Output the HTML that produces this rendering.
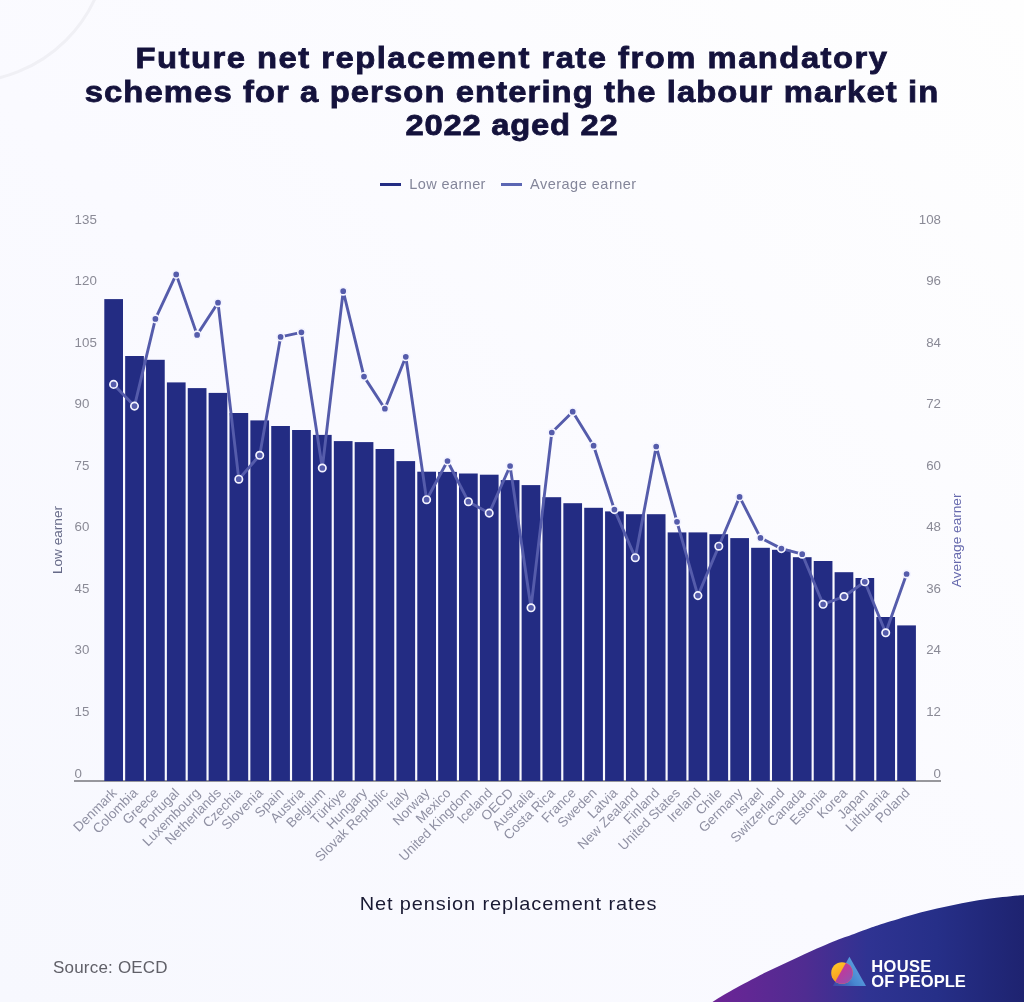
<!DOCTYPE html>
<html lang="en">
<head>
<meta charset="utf-8">
<title>Future net replacement rate from mandatory schemes</title>
<style>
html,body{margin:0;padding:0;}
body{width:1024px;height:1002px;overflow:hidden;position:relative;background:#f9f9fd;font-family:"Liberation Sans",sans-serif;}
#bg{position:absolute;left:0;top:0;width:1024px;height:1002px;background:linear-gradient(45deg,#f7f8fe 0%,#fafaff 45%,#fefefe 100%);}
h1{position:absolute;left:-200px;top:41.4px;width:1424px;margin:0;text-align:center;font-weight:bold;font-size:30px;line-height:33.4px;color:#14123c;letter-spacing:1.0px;-webkit-text-stroke:0.8px #14123c;transform:scaleX(1.093);transform-origin:712px 0;white-space:nowrap;}
.legend{position:absolute;top:174px;left:0;width:1024px;height:20px;font-size:14.5px;color:#84869a;letter-spacing:0.3px;}
.legend span{position:absolute;top:0;line-height:20px;white-space:nowrap;}
.legend i{position:absolute;top:9.2px;height:3.2px;width:20.5px;display:block;}
svg{position:absolute;left:0;top:0;will-change:transform;}
.sub{position:absolute;left:0;top:892px;width:1017px;text-align:center;font-size:19px;line-height:24px;color:#191a33;letter-spacing:0.85px;transform:scaleX(1.05);transform-origin:508.5px 0;}
.src{position:absolute;left:53px;top:956px;font-size:17px;line-height:24px;color:#606068;letter-spacing:0.2px;}
.brand{position:absolute;left:871.3px;top:959.3px;color:#fff;font-weight:bold;font-size:16.5px;line-height:14.4px;letter-spacing:0.35px;white-space:nowrap;}
</style>
</head>
<body>
<div id="bg"></div>
<svg width="1024" height="1002" viewBox="0 0 1024 1002">
<defs>
<linearGradient id="sw" x1="712" y1="0" x2="1024" y2="0" gradientUnits="userSpaceOnUse">
<stop offset="0" stop-color="#6d2496"/><stop offset="0.3" stop-color="#4f2c91"/><stop offset="0.5" stop-color="#2f3392"/><stop offset="0.72" stop-color="#262f88"/><stop offset="1" stop-color="#1e2370"/>
</linearGradient>
<linearGradient id="lc" x1="0" y1="0" x2="0.6" y2="1">
<stop offset="0" stop-color="#ffcf2a"/><stop offset="0.55" stop-color="#fbaa22"/><stop offset="1" stop-color="#f58a2a"/>
</linearGradient>
<linearGradient id="lm" x1="0" y1="0" x2="1" y2="1">
<stop offset="0" stop-color="#d23a8e"/><stop offset="0.5" stop-color="#b93d9e"/><stop offset="1" stop-color="#8c55b5"/>
</linearGradient>
<linearGradient id="lt" x1="0" y1="1" x2="1" y2="0.35">
<stop offset="0" stop-color="#3a63bb" stop-opacity="0.45"/><stop offset="0.5" stop-color="#4786d0"/><stop offset="1" stop-color="#62a7e3"/>
</linearGradient>
</defs>
<circle cx="-35" cy="-61" r="143" fill="none" stroke="#f0f0f5" stroke-width="3"/>
<path d="M712.5,1002.0 C716.0,999.9 724.2,994.6 733.2,989.6 C742.2,984.6 755.3,977.6 766.4,972.1 C777.5,966.6 788.5,961.5 799.6,956.4 C810.7,951.3 823.7,945.5 832.8,941.8 C841.9,938.1 847.8,936.3 854.0,934.0 C860.2,931.7 864.5,930.1 870.0,928.1 C875.5,926.1 878.8,924.9 887.2,922.3 C895.6,919.7 909.3,915.3 920.4,912.4 C931.5,909.5 942.5,907.1 953.6,904.9 C964.7,902.7 975.1,900.8 986.8,899.1 C998.5,897.4 1017.8,895.6 1024.0,894.9 L1024,1002 Z" fill="url(#sw)"/>
<rect x="74" y="780.3" width="867" height="1.4" fill="#6e6e74"/>
<g fill="#232c83">
<rect x="104.30" y="299.1" width="18.7" height="481.9"/>
<rect x="125.17" y="356.0" width="18.7" height="425.0"/>
<rect x="146.03" y="359.8" width="18.7" height="421.2"/>
<rect x="166.90" y="382.4" width="18.7" height="398.6"/>
<rect x="187.76" y="388.1" width="18.7" height="392.9"/>
<rect x="208.63" y="392.9" width="18.7" height="388.1"/>
<rect x="229.50" y="413.0" width="18.7" height="368.0"/>
<rect x="250.36" y="420.4" width="18.7" height="360.6"/>
<rect x="271.23" y="426.0" width="18.7" height="355.0"/>
<rect x="292.09" y="430.0" width="18.7" height="351.0"/>
<rect x="312.96" y="434.9" width="18.7" height="346.1"/>
<rect x="333.83" y="441.1" width="18.7" height="339.9"/>
<rect x="354.69" y="442.1" width="18.7" height="338.9"/>
<rect x="375.56" y="449.0" width="18.7" height="332.0"/>
<rect x="396.42" y="461.1" width="18.7" height="319.9"/>
<rect x="417.29" y="471.7" width="18.7" height="309.3"/>
<rect x="438.16" y="471.9" width="18.7" height="309.1"/>
<rect x="459.02" y="473.5" width="18.7" height="307.5"/>
<rect x="479.89" y="474.7" width="18.7" height="306.3"/>
<rect x="500.75" y="480.1" width="18.7" height="300.9"/>
<rect x="521.62" y="485.1" width="18.7" height="295.9"/>
<rect x="542.49" y="497.2" width="18.7" height="283.8"/>
<rect x="563.35" y="503.2" width="18.7" height="277.8"/>
<rect x="584.22" y="507.8" width="18.7" height="273.2"/>
<rect x="605.08" y="511.4" width="18.7" height="269.6"/>
<rect x="625.95" y="514.2" width="18.7" height="266.8"/>
<rect x="646.82" y="514.2" width="18.7" height="266.8"/>
<rect x="667.68" y="532.4" width="18.7" height="248.6"/>
<rect x="688.55" y="532.4" width="18.7" height="248.6"/>
<rect x="709.41" y="534.2" width="18.7" height="246.8"/>
<rect x="730.28" y="538.1" width="18.7" height="242.9"/>
<rect x="751.15" y="547.8" width="18.7" height="233.2"/>
<rect x="772.01" y="549.8" width="18.7" height="231.2"/>
<rect x="792.88" y="557.2" width="18.7" height="223.8"/>
<rect x="813.74" y="561.0" width="18.7" height="220.0"/>
<rect x="834.61" y="572.2" width="18.7" height="208.8"/>
<rect x="855.48" y="578.0" width="18.7" height="203.0"/>
<rect x="876.34" y="617.0" width="18.7" height="164.0"/>
<rect x="897.21" y="625.4" width="18.7" height="155.6"/>
</g>
<polyline points="113.6,384.4 134.5,406.1 155.4,318.9 176.2,274.4 197.1,334.9 218.0,302.7 238.8,479.2 259.7,455.3 280.6,336.9 301.4,332.3 322.3,468.0 343.2,291.2 364.0,376.6 384.9,408.7 405.8,356.8 426.6,499.7 447.5,461.0 468.4,501.7 489.2,513.1 510.1,466.0 531.0,607.8 551.8,432.5 572.7,411.7 593.6,445.7 614.4,509.6 635.3,557.7 656.2,446.5 677.0,521.8 697.9,595.6 718.8,546.2 739.6,496.9 760.5,537.9 781.4,548.6 802.2,554.2 823.1,604.3 844.0,596.5 864.8,581.8 885.7,632.8 906.6,574.0" fill="none" stroke="#555cab" stroke-width="2.9" stroke-linejoin="round" stroke-linecap="round"/>
<g fill="#555cab" stroke="#f4f4ff" stroke-width="1.7">
<circle cx="113.6" cy="384.4" r="3.7"/>
<circle cx="134.5" cy="406.1" r="3.7"/>
<circle cx="155.4" cy="318.9" r="3.7"/>
<circle cx="176.2" cy="274.4" r="3.7"/>
<circle cx="197.1" cy="334.9" r="3.7"/>
<circle cx="218.0" cy="302.7" r="3.7"/>
<circle cx="238.8" cy="479.2" r="3.7"/>
<circle cx="259.7" cy="455.3" r="3.7"/>
<circle cx="280.6" cy="336.9" r="3.7"/>
<circle cx="301.4" cy="332.3" r="3.7"/>
<circle cx="322.3" cy="468.0" r="3.7"/>
<circle cx="343.2" cy="291.2" r="3.7"/>
<circle cx="364.0" cy="376.6" r="3.7"/>
<circle cx="384.9" cy="408.7" r="3.7"/>
<circle cx="405.8" cy="356.8" r="3.7"/>
<circle cx="426.6" cy="499.7" r="3.7"/>
<circle cx="447.5" cy="461.0" r="3.7"/>
<circle cx="468.4" cy="501.7" r="3.7"/>
<circle cx="489.2" cy="513.1" r="3.7"/>
<circle cx="510.1" cy="466.0" r="3.7"/>
<circle cx="531.0" cy="607.8" r="3.7"/>
<circle cx="551.8" cy="432.5" r="3.7"/>
<circle cx="572.7" cy="411.7" r="3.7"/>
<circle cx="593.6" cy="445.7" r="3.7"/>
<circle cx="614.4" cy="509.6" r="3.7"/>
<circle cx="635.3" cy="557.7" r="3.7"/>
<circle cx="656.2" cy="446.5" r="3.7"/>
<circle cx="677.0" cy="521.8" r="3.7"/>
<circle cx="697.9" cy="595.6" r="3.7"/>
<circle cx="718.8" cy="546.2" r="3.7"/>
<circle cx="739.6" cy="496.9" r="3.7"/>
<circle cx="760.5" cy="537.9" r="3.7"/>
<circle cx="781.4" cy="548.6" r="3.7"/>
<circle cx="802.2" cy="554.2" r="3.7"/>
<circle cx="823.1" cy="604.3" r="3.7"/>
<circle cx="844.0" cy="596.5" r="3.7"/>
<circle cx="864.8" cy="581.8" r="3.7"/>
<circle cx="885.7" cy="632.8" r="3.7"/>
<circle cx="906.6" cy="574.0" r="3.7"/>
</g>
<g font-family="'Liberation Sans',sans-serif" font-size="13.3" fill="#8a8a96">
<text x="74.6" y="777.5">0</text><text x="941" y="777.5" text-anchor="end">0</text>
<text x="74.6" y="716.0">15</text><text x="941" y="716.0" text-anchor="end">12</text>
<text x="74.6" y="654.4">30</text><text x="941" y="654.4" text-anchor="end">24</text>
<text x="74.6" y="592.9">45</text><text x="941" y="592.9" text-anchor="end">36</text>
<text x="74.6" y="531.3">60</text><text x="941" y="531.3" text-anchor="end">48</text>
<text x="74.6" y="469.8">75</text><text x="941" y="469.8" text-anchor="end">60</text>
<text x="74.6" y="408.2">90</text><text x="941" y="408.2" text-anchor="end">72</text>
<text x="74.6" y="346.7">105</text><text x="941" y="346.7" text-anchor="end">84</text>
<text x="74.6" y="285.1">120</text><text x="941" y="285.1" text-anchor="end">96</text>
<text x="74.6" y="223.6">135</text><text x="941" y="223.6" text-anchor="end">108</text>
</g>
<g font-family="'Liberation Sans',sans-serif" font-size="13.5" fill="#8f90a3">
<text transform="translate(117.6,793.8) rotate(-45)" text-anchor="end">Denmark</text>
<text transform="translate(138.5,793.8) rotate(-45)" text-anchor="end">Colombia</text>
<text transform="translate(159.4,793.8) rotate(-45)" text-anchor="end">Greece</text>
<text transform="translate(180.2,793.8) rotate(-45)" text-anchor="end">Portugal</text>
<text transform="translate(201.1,793.8) rotate(-45)" text-anchor="end">Luxembourg</text>
<text transform="translate(222.0,793.8) rotate(-45)" text-anchor="end">Netherlands</text>
<text transform="translate(242.8,793.8) rotate(-45)" text-anchor="end">Czechia</text>
<text transform="translate(263.7,793.8) rotate(-45)" text-anchor="end">Slovenia</text>
<text transform="translate(284.6,793.8) rotate(-45)" text-anchor="end">Spain</text>
<text transform="translate(305.4,793.8) rotate(-45)" text-anchor="end">Austria</text>
<text transform="translate(326.3,793.8) rotate(-45)" text-anchor="end">Belgium</text>
<text transform="translate(347.2,793.8) rotate(-45)" text-anchor="end">Türkiye</text>
<text transform="translate(368.0,793.8) rotate(-45)" text-anchor="end">Hungary</text>
<text transform="translate(388.9,793.8) rotate(-45)" text-anchor="end">Slovak Republic</text>
<text transform="translate(409.8,793.8) rotate(-45)" text-anchor="end">Italy</text>
<text transform="translate(430.6,793.8) rotate(-45)" text-anchor="end">Norway</text>
<text transform="translate(451.5,793.8) rotate(-45)" text-anchor="end">Mexico</text>
<text transform="translate(472.4,793.8) rotate(-45)" text-anchor="end">United Kingdom</text>
<text transform="translate(493.2,793.8) rotate(-45)" text-anchor="end">Iceland</text>
<text transform="translate(514.1,793.8) rotate(-45)" text-anchor="end">OECD</text>
<text transform="translate(535.0,793.8) rotate(-45)" text-anchor="end">Australia</text>
<text transform="translate(555.8,793.8) rotate(-45)" text-anchor="end">Costa Rica</text>
<text transform="translate(576.7,793.8) rotate(-45)" text-anchor="end">France</text>
<text transform="translate(597.6,793.8) rotate(-45)" text-anchor="end">Sweden</text>
<text transform="translate(618.4,793.8) rotate(-45)" text-anchor="end">Latvia</text>
<text transform="translate(639.3,793.8) rotate(-45)" text-anchor="end">New Zealand</text>
<text transform="translate(660.2,793.8) rotate(-45)" text-anchor="end">Finland</text>
<text transform="translate(681.0,793.8) rotate(-45)" text-anchor="end">United States</text>
<text transform="translate(701.9,793.8) rotate(-45)" text-anchor="end">Ireland</text>
<text transform="translate(722.8,793.8) rotate(-45)" text-anchor="end">Chile</text>
<text transform="translate(743.6,793.8) rotate(-45)" text-anchor="end">Germany</text>
<text transform="translate(764.5,793.8) rotate(-45)" text-anchor="end">Israel</text>
<text transform="translate(785.4,793.8) rotate(-45)" text-anchor="end">Switzerland</text>
<text transform="translate(806.2,793.8) rotate(-45)" text-anchor="end">Canada</text>
<text transform="translate(827.1,793.8) rotate(-45)" text-anchor="end">Estonia</text>
<text transform="translate(848.0,793.8) rotate(-45)" text-anchor="end">Korea</text>
<text transform="translate(868.8,793.8) rotate(-45)" text-anchor="end">Japan</text>
<text transform="translate(889.7,793.8) rotate(-45)" text-anchor="end">Lithuania</text>
<text transform="translate(910.6,793.8) rotate(-45)" text-anchor="end">Poland</text>
</g>
<text transform="translate(62.4,540) rotate(-90)" text-anchor="middle" font-family="'Liberation Sans',sans-serif" font-size="13.6" fill="#666a88">Low earner</text>
<text transform="translate(961,540.4) rotate(-90)" text-anchor="middle" font-family="'Liberation Sans',sans-serif" font-size="13.65" fill="#6669ad">Average earner</text>
<g>
<clipPath id="tri"><polygon points="849.4,956.7 866,985.9 832.8,985.9"/></clipPath>
<polygon points="849.4,956.7 866,985.9 832.8,985.9" fill="url(#lt)"/>
<circle cx="842" cy="973" r="10.8" fill="url(#lc)"/>
<circle cx="842" cy="973" r="10.8" fill="url(#lm)" clip-path="url(#tri)"/>
</g>
</svg>
<h1><span style="letter-spacing:1.36px">Future net replacement rate from mandatory</span><br>schemes for a person entering the labour market in<br><span style="letter-spacing:0.68px">2022 aged 22</span></h1>
<div class="legend"><i style="left:380px;background:#232c83"></i><span style="left:409.3px;letter-spacing:0.4px">Low earner</span><i style="left:501px;background:#5b66b3"></i><span style="left:530px;letter-spacing:0.5px">Average earner</span></div>
<div class="sub">Net pension replacement rates</div>
<div class="src">Source: OECD</div>
<div class="brand">HOUSE<br><span style="letter-spacing:0">OF PEOPLE</span></div>
</body>
</html>
